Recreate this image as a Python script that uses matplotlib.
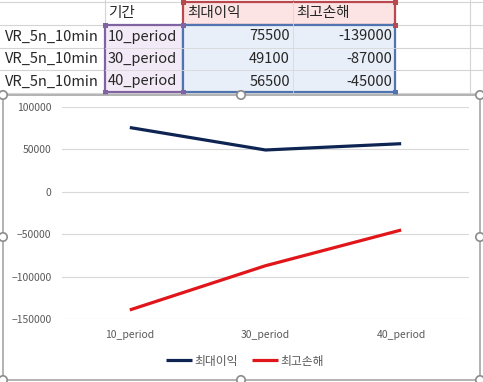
import matplotlib.pyplot as plt
from matplotlib.patches import Rectangle, Circle

plt.rcParams['font.family'] = ['Noto Sans CJK KR', 'DejaVu Sans']

# data from the sheet
row_names = ['VR_5n_10min', 'VR_5n_10min', 'VR_5n_10min']
periods = ['10_period', '30_period', '40_period']
headers = ['기간', '최대이익', '최고손해']
max_profit = [75500, 49100, 56500]
max_loss = [-139000, -87000, -45000]

W, H = 483, 382
fig = plt.figure(figsize=(W / 100, H / 100), dpi=100)

# background layer in pixel coords (spreadsheet + chart frame)
bg = fig.add_axes([0, 0, 1, 1])
bg.set_xlim(0, W)
bg.set_ylim(H, 0)
bg.axis('off')

grid_c = '#d4d4d4'
rows_y = [2, 25, 48, 70, 93]
cols_x = [105, 183, 293, 395, 470]
for y in rows_y:
    bg.plot([0, W], [y, y], color=grid_c, lw=0.8, zorder=1)
for x in cols_x:
    bg.plot([x, x], [0, 95], color=grid_c, lw=0.8, zorder=1)

# highlighted ranges
bg.add_patch(Rectangle((183, 2), 212, 23, facecolor='#fce4e4', edgecolor='#b8474e', lw=1.6, zorder=2))
bg.add_patch(Rectangle((105, 25), 78, 67, facecolor='#f2eaf6', edgecolor='#8064a2', lw=1.6, zorder=2))
bg.add_patch(Rectangle((183, 25), 212, 67, facecolor='#e8eff9', edgecolor='#4f74b0', lw=1.6, zorder=2))
bg.plot([293, 293], [2, 92], color='#d8d8d8', lw=0.6, zorder=2.5)
for y in [48, 70]:
    bg.plot([105, 395], [y, y], color='#d8d8d8', lw=0.6, zorder=2.5)
for (x, y, c) in [(183, 2, '#b8474e'), (395, 2, '#b8474e'), (395, 25, '#b8474e'),
                  (105, 25, '#8064a2'), (183, 25, '#8064a2'), (105, 92, '#8064a2'),
                  (183, 92, '#8064a2'), (395, 92, '#4f74b0')]:
    bg.add_patch(Rectangle((x - 2.5, y - 2.5), 5, 5, facecolor=c, edgecolor='none', zorder=3))

fs = 10.5
tc = '#262626'
bg.text(108, 13.5, headers[0], fontsize=fs, va='center', ha='left', color=tc, zorder=4)
bg.text(187, 13.5, headers[1], fontsize=fs, va='center', ha='left', color=tc, zorder=4)
bg.text(296, 13.5, headers[2], fontsize=fs, va='center', ha='left', color=tc, zorder=4)
for i in range(3):
    yc = 36.5 + i * 22.5
    bg.text(5, yc, row_names[i], fontsize=fs, va='center', ha='left', color=tc, zorder=4)
    bg.text(108, yc, periods[i], fontsize=fs, va='center', ha='left', color=tc, zorder=4)
    bg.text(290, yc, str(max_profit[i]), fontsize=fs, va='center', ha='right', color=tc, zorder=4)
    bg.text(392, yc, str(max_loss[i]), fontsize=fs, va='center', ha='right', color=tc, zorder=4)

# chart frame
bg.add_patch(Rectangle((3, 95), 477, 285, facecolor='white', edgecolor='#a6a6a6', lw=1.2, zorder=5))
for (x, y) in [(3, 95), (241, 95), (480, 95), (3, 237), (480, 237), (3, 380), (241, 380), (480, 380)]:
    bg.add_patch(Circle((x, y), 4.2, facecolor='white', edgecolor='#8c8c8c', lw=1.2, zorder=6))

# chart plot area
left, right, top, bottom = 62, 469, 106.7, 319.3
ax = fig.add_axes([left / W, 1 - bottom / H, (right - left) / W, (bottom - top) / H])
ax.patch.set_alpha(0)
xs = range(len(periods))
ax.plot(xs, max_profit, color='#0e2453', lw=2.3, label=headers[1], solid_capstyle='butt')
ax.plot(xs, max_loss, color='#e0161a', lw=2.3, label=headers[2], solid_capstyle='butt')
ax.set_xlim(-0.5, 2.5)
ax.set_ylim(-150000, 100000)
ax.set_yticks(range(-150000, 100001, 50000))
ax.set_xticks(list(xs))
ax.set_xticklabels(periods)
ax.grid(axis='y', color='#d9d9d9', lw=0.8)
ax.set_axisbelow(True)
for s in ax.spines.values():
    s.set_visible(False)
ax.tick_params(length=0, labelsize=7.5, colors='#595959')
ax.tick_params(axis='y', pad=7.5)
ax.tick_params(axis='x', pad=8)

fig.legend(loc='center', bbox_to_anchor=(245 / W, 1 - 361 / H), ncol=2, frameon=False,
           fontsize=8.5, labelcolor='#595959', handlelength=2.2, handletextpad=0.2,
           columnspacing=1.2)

fig.savefig('out.png', dpi=100)
